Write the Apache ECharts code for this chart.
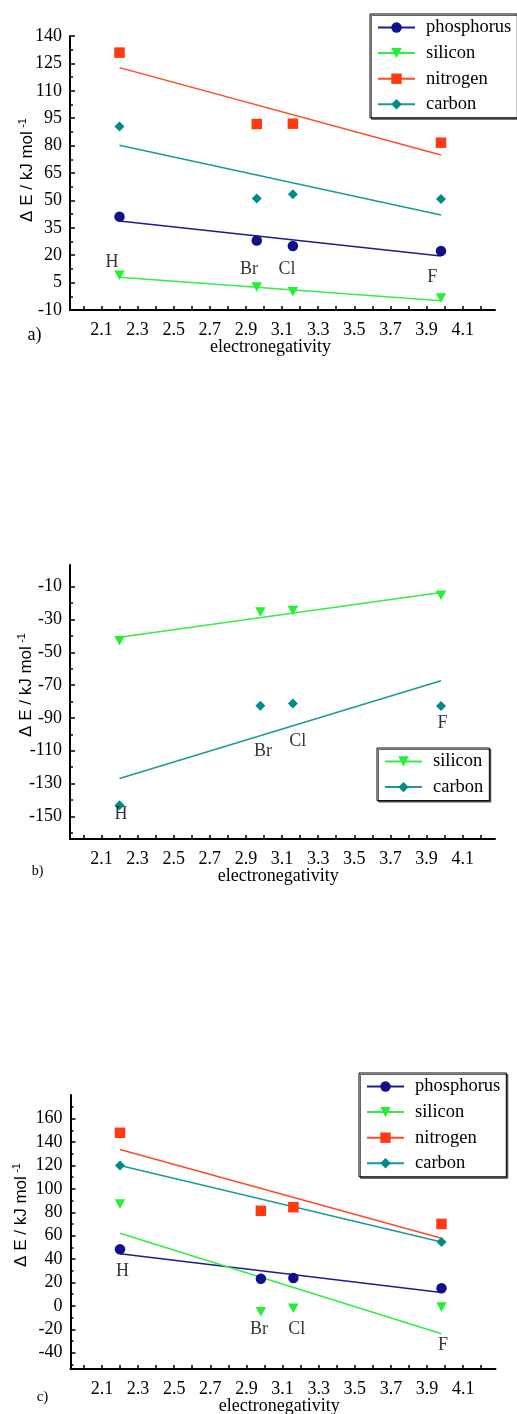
<!DOCTYPE html>
<html>
<head>
<meta charset="utf-8">
<script src="https://cdn.jsdelivr.net/npm/echarts@6/dist/echarts.min.js"></script>
<style>
html, body { margin: 0; padding: 0; background: #fff; }
#main { width: 517px; height: 1414px; }
</style>
</head>
<body>
<div id="main"></div>
<script>
let chart = echarts.init(document.getElementById('main'));

// electronegativity of H, Br, Cl, F
const enA = [2.20, 2.96, 3.16, 3.98];
const enBC = [2.20, 2.98, 3.16, 3.98];
const fitX = [2.20, 3.98];
const elements = ['H', 'Br', 'Cl', 'F'];

// a)
const phosA = [41.1, 28.0, 25.0, 22.3];
const silA = [9.0, 2.6, 0.0, -3.4];
const nitA = [130.9, 91.8, 92.0, 81.6];
const carbA = [90.4, 51.1, 53.3, 50.8];
const phosFitA = [38.7, 19.6];
const silFitA = [7.9, -4.9];
const nitFitA = [122.7, 74.9];
const carbFitA = [80.2, 42.0];

// b)
const silB = [-43.0, -25.4, -24.5, -15.3];
const carbB = [-143.3, -82.6, -81.2, -82.8];
const silFitB = [-40.8, -13.6];
const carbFitB = [-126.9, -67.4];

// c)  (carbon only at H and F)
const phosC = [48.4, 23.3, 23.9, 15.1];
const silC = [87.2, -5.0, -2.0, -1.0];
const nitC = [148.0, 81.3, 84.4, 70.1];
const carbC = [120.1, null, null, 54.7];
const phosFitC = [44.7, 11.4];
const silFitC = [62.1, -23.7];
const nitFitC = [133.8, 57.8];
const carbFitC = [120.1, 54.7];

// element label positions (data coords)
const annA = [[2.159, 16.3], [2.917, 12.4], [3.128, 12.4], [3.931, 8.1]];
const annB = [[2.209, -148.5], [2.995, -110.4], [3.187, -104.3], [3.988, -93.1]];
const annC = [[2.214, 29.5], [2.969, -19.7], [3.178, -19.7], [3.988, -34.0]];

// ticks
const xLabels = [2.1, 2.3, 2.5, 2.7, 2.9, 3.1, 3.3, 3.5, 3.7, 3.9, 4.1];
const xTicks = [2.0, 2.1, 2.2, 2.3, 2.4, 2.5, 2.6, 2.7, 2.8, 2.9, 3.0, 3.1, 3.2, 3.3, 3.4, 3.5, 3.6, 3.7, 3.8, 3.9, 4.0, 4.1, 4.2];
const yLabelsA = [-10, 5, 20, 35, 50, 65, 80, 95, 110, 125, 140];
const yMinorA = [-2.5, 12.5, 27.5, 42.5, 57.5, 72.5, 87.5, 102.5, 117.5, 132.5];
const yLabelsB = [-150, -130, -110, -90, -70, -50, -30, -10];
const yMinorB = [-160, -140, -120, -100, -80, -60, -40, -20];
const yLabelsC = [-40, -20, 0, 20, 40, 60, 80, 100, 120, 140, 160];
const yMinorC = [-50, -30, -10, 10, 30, 50, 70, 90, 110, 130, 150, 170];

const namesFour = ['phosphorus', 'silicon', 'nitrogen', 'carbon'];
const namesTwo = ['silicon', 'carbon'];

const serif = 'Liberation Serif';
const sans = 'Liberation Sans';

// 样式
const styles = {
	phosphorus : { color : '#10108a', line : '#1c1c90', symbol : 'circle', size : 10.5 },
	silicon : { color : '#22f033', line : '#33ee44', symbol : 'path://M0,0 L10,0 L5,9 Z', size : [10.5, 9.5] },
	nitrogen : { color : '#ff3a10', line : '#ff4a2a', symbol : 'rect', size : 10.5 },
	carbon : { color : '#008b8b', line : '#1a9a9a', symbol : 'diamond', size : [10, 10] }
};

const grids = [
	{ left : 70, top : 36, width : 425, height : 274 },
	{ left : 70, top : 565, width : 425, height : 274 },
	{ left : 70.5, top : 1095, width : 425, height : 274 }
];
const yRanges = [[-10, 140], [-163.8, 3.2], [-53.9, 180.3]];
const yLabels = [yLabelsA, yLabelsB, yLabelsC];
const yMinor = [yMinorA, yMinorB, yMinorC];

function pts(xs, ys) {
	return xs.map((x, i) => [x, ys[i]]).filter(p => p[1] != null);
}

function fitSeries(name, idx, ys) {
	let st = styles[name];
	return {
		name : name, type : 'line', xAxisIndex : idx, yAxisIndex : idx,
		data : pts(fitX, ys), symbol : st.symbol, symbolSize : st.size, showSymbol : false,
		lineStyle : { color : st.line, width : 1.5 }, itemStyle : { color : st.color },
		z : 2, silent : true
	};
}
function pointSeries(name, idx, xs, ys) {
	let st = styles[name];
	return {
		name : name, type : 'scatter', xAxisIndex : idx, yAxisIndex : idx,
		data : pts(xs, ys), symbol : st.symbol, symbolSize : st.size,
		itemStyle : { color : st.color, opacity : 1 }, z : 3, silent : true
	};
}
function labelSeries(idx, ann) {
	return {
		type : 'scatter', xAxisIndex : idx, yAxisIndex : idx,
		data : ann.map((p, i) => [p[0], p[1], elements[i]]),
		symbol : 'circle', symbolSize : 0.1, itemStyle : { color : 'transparent' },
		label : { show : true, position : 'inside', formatter : p => p.data[2], color : '#000', fontFamily : serif, fontSize : 18 },
		z : 4, silent : true
	};
}

let tickLine = { color : '#000', width : 1.5 };
let xAxes = grids.map((g, i) => ({
	type : 'value', gridIndex : i, min : 1.926, max : 4.279,
	axisLine : { show : true, onZero : false, lineStyle : { color : '#000', width : 2 } },
	axisTick : { show : true, inside : true, length : 4, customValues : xTicks, lineStyle : tickLine },
	axisLabel : { customValues : xLabels, margin : 11, color : '#000', fontFamily : serif, fontSize : 18, formatter : v => v.toFixed(1) },
	splitLine : { show : false }
}));
let yAxes = grids.map((g, i) => ({
	type : 'value', gridIndex : i, position : 'left', min : yRanges[i][0], max : yRanges[i][1],
	axisLine : { show : true, onZero : false, lineStyle : { color : '#000', width : 2 } },
	axisTick : { show : true, inside : true, length : 5, customValues : yLabels[i], lineStyle : tickLine },
	axisLabel : { customValues : yLabels[i], margin : 8, color : '#000', fontFamily : serif, fontSize : 18 },
	splitLine : { show : false }
}));
// 次刻度
grids.forEach((g, i) => {
	yAxes.push({
		type : 'value', gridIndex : i, position : 'left', offset : 0, min : yRanges[i][0], max : yRanges[i][1],
		axisLine : { show : false },
		axisTick : { show : true, inside : true, length : 3, customValues : yMinor[i], lineStyle : tickLine },
		axisLabel : { show : false },
		splitLine : { show : false }
	});
});

let legendBase = {
	orient : 'vertical', itemWidth : 37, itemHeight : 13, itemGap : 6.6,
	padding : [4, 6, 4, 7], borderColor : '#000', borderWidth : 1, backgroundColor : '#fff',
	shadowColor : 'rgba(0,0,0,0.6)', shadowOffsetX : 1.5, shadowOffsetY : 1.5, shadowBlur : 0,
	selectedMode : false, lineStyle : { width : 2 },
	textStyle : { fontFamily : serif, fontSize : 18.5, color : '#000', lineHeight : 18, padding : [0, 0, 0, 6] }
};

function yTitle(x, y) {
	return {
		type : 'text', x : x, y : y, rotation : Math.PI / 2,
		style : {
			text : '{m|Δ E / kJ mol} {s|-1}',
			rich : {
				m : { fontFamily : sans, fontSize : 17, lineHeight : 20 },
				s : { fontFamily : sans, fontSize : 11, verticalAlign : 'top' }
			},
			align : 'center', verticalAlign : 'middle', fill : '#000'
		}
	};
}
function plainText(x, y, text, size) {
	return {
		type : 'text', x : x, y : y,
		style : { text : text, fontFamily : serif, fontSize : size, fill : '#000', align : 'center', verticalAlign : 'middle' }
	};
}

let option = {
	animation : false,
	backgroundColor : '#fff',
	grid : grids.map(g => Object.assign({ outerBoundsMode : 'none', containLabel : false }, g)),
	xAxis : xAxes,
	yAxis : yAxes,
	legend : [
		Object.assign({}, legendBase, { data : namesFour, left : 370, top : 14 }),
		Object.assign({}, legendBase, { data : namesTwo, left : 377, top : 748 }),
		Object.assign({}, legendBase, { data : namesFour, left : 359, top : 1073 })
	],
	graphic : [
		yTitle(27.5, 170), yTitle(26, 685), yTitle(21, 1215),
		plainText(270.5, 347.7, 'electronegativity', 18),
		plainText(278.3, 876.7, 'electronegativity', 18),
		plainText(279.2, 1406.7, 'electronegativity', 18),
		plainText(34.5, 335.5, 'a)', 18),
		plainText(37.5, 871.7, 'b)', 14),
		plainText(42.5, 1397, 'c)', 15)
	],
	series : [
		// 拟合线
		fitSeries('phosphorus', 0, phosFitA),
		fitSeries('silicon', 0, silFitA),
		fitSeries('nitrogen', 0, nitFitA),
		fitSeries('carbon', 0, carbFitA),
		fitSeries('silicon', 1, silFitB),
		fitSeries('carbon', 1, carbFitB),
		fitSeries('phosphorus', 2, phosFitC),
		fitSeries('silicon', 2, silFitC),
		fitSeries('nitrogen', 2, nitFitC),
		fitSeries('carbon', 2, carbFitC),
		// 数据点
		pointSeries('carbon', 0, enA, carbA),
		pointSeries('phosphorus', 0, enA, phosA),
		pointSeries('silicon', 0, enA, silA),
		pointSeries('nitrogen', 0, enA, nitA),
		pointSeries('carbon', 1, enBC, carbB),
		pointSeries('silicon', 1, enBC, silB),
		pointSeries('carbon', 2, enBC, carbC),
		pointSeries('phosphorus', 2, enBC, phosC),
		pointSeries('silicon', 2, enBC, silC),
		pointSeries('nitrogen', 2, enBC, nitC),
		labelSeries(0, annA),
		labelSeries(1, annB),
		labelSeries(2, annC)
	]
};
chart.setOption(option);
</script>
</body>
</html>
